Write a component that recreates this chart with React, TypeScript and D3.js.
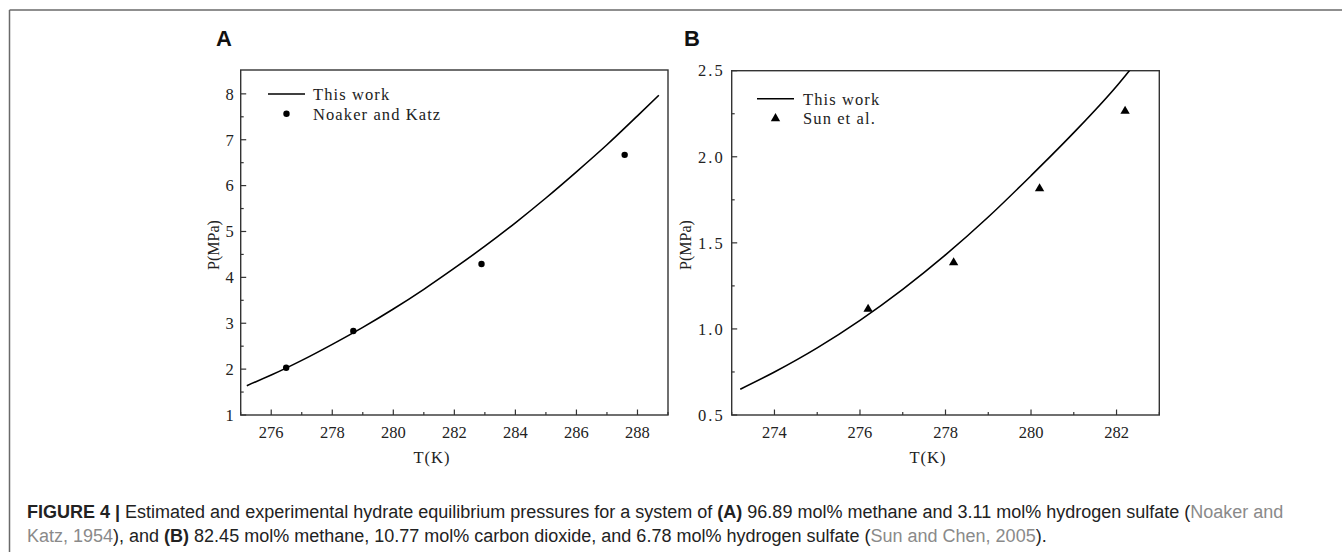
import React from "react";
import * as d3 from "d3";

// Panel A data
const curveA_T = [275.2, 276, 277, 278, 279, 280, 281, 282, 283, 284, 285, 286, 287, 288, 288.7];
const curveA_P = [1.64, 1.87, 2.19, 2.54, 2.91, 3.31, 3.74, 4.2, 4.68, 5.19, 5.73, 6.3, 6.89, 7.52, 7.97];
const pointsA_T = [276.49, 278.69, 282.89, 287.58];
const pointsA_P = [2.03, 2.83, 4.29, 6.67];
const xTicksA = [276, 278, 280, 282, 284, 286, 288];
const xMinorA = [275, 277, 279, 281, 283, 285, 287, 289];
const yTicksA = [1, 2, 3, 4, 5, 6, 7, 8];
const yMinorA = [1.5, 2.5, 3.5, 4.5, 5.5, 6.5, 7.5];

// Panel B data
const curveB_T = [273.2, 274, 275, 276, 277, 278, 279, 280, 281, 282, 282.3, 282.6];
const curveB_P = [0.65, 0.75, 0.89, 1.05, 1.23, 1.43, 1.65, 1.89, 2.14, 2.41, 2.5, 2.59];
const pointsB_T = [276.19, 278.19, 280.2, 282.2];
const pointsB_P = [1.12, 1.39, 1.82, 2.27];
const xTicksB = [274, 276, 278, 280, 282];
const xMinorB = [273, 275, 277, 279, 281, 283];
const yTicksB = [0.5, 1.0, 1.5, 2.0, 2.5];
const yMinorB = [0.75, 1.25, 1.75, 2.25];

const SERIF = "'Liberation Serif', 'Times New Roman', serif";
const SANS = "'Liberation Sans', Arial, Helvetica, sans-serif";
const INK = "#222";

type PanelProps = {
  id: string;
  letter: string;
  letterX: number;
  box: { x0: number; x1: number; y0: number; y1: number };
  xDomain: [number, number];
  yDomain: [number, number];
  xTicks: number[];
  xMinor: number[];
  yTicks: number[];
  yMinor: number[];
  yFmt: (v: number) => string;
  yLetterSpacing: number;
  curveT: number[];
  curveP: number[];
  ptsT: number[];
  ptsP: number[];
  marker: "circle" | "triangle";
  legendName: string;
  legend: { lx0: number; lx1: number; ly1: number; ly2: number; tx: number };
  yLabelX: number;
  xLabelX: number;
};

function Marker({ kind, x, y }: { kind: "circle" | "triangle"; x: number; y: number }) {
  if (kind === "circle") return <circle cx={x} cy={y} r={3.2} fill="#000" />;
  const sym = d3.symbol(d3.symbolTriangle, 38)();
  return <path d={sym || ""} transform={`translate(${x},${y + 0.8})`} fill="#000" />;
}

function Panel(p: PanelProps) {
  const { box } = p;
  const x = d3.scaleLinear().domain(p.xDomain).range([box.x0, box.x1]);
  const y = d3.scaleLinear().domain(p.yDomain).range([box.y1, box.y0]);
  const line = d3
    .line<number>()
    .x((_, i) => x(p.curveT[i]))
    .y((d) => y(d))
    .curve(d3.curveMonotoneX);
  const clipId = `clip-${p.id}`;
  const stroke = "#333";
  return (
    <g>
      <defs>
        <clipPath id={clipId}>
          <rect x={box.x0} y={box.y0} width={box.x1 - box.x0} height={box.y1 - box.y0} />
        </clipPath>
      </defs>
      <text x={p.letterX} y={46} fontFamily={SANS} fontWeight="bold" fontSize={22} fill="#111">
        {p.letter}
      </text>
      {p.xTicks.map((t) => (
        <g key={`xt${t}`}>
          <line x1={x(t)} x2={x(t)} y1={box.y1} y2={box.y1 - 5.5} stroke={stroke} strokeWidth={1.2} />
          <text x={x(t)} y={438} textAnchor="middle" fontFamily={SERIF} fontSize={16.5} fill={INK}>
            {t}
          </text>
        </g>
      ))}
      {p.xMinor.map((t) => (
        <line key={`xm${t}`} x1={x(t)} x2={x(t)} y1={box.y1} y2={box.y1 - 3} stroke={stroke} strokeWidth={1.2} />
      ))}
      {p.yTicks.map((t) => (
        <g key={`yt${t}`}>
          <line x1={box.x0} x2={box.x0 + 5.5} y1={y(t)} y2={y(t)} stroke={stroke} strokeWidth={1.2} />
          <text
            x={box.x0 - 7}
            y={y(t)}
            dy="0.35em"
            textAnchor="end"
            fontFamily={SERIF}
            fontSize={16.5}
            letterSpacing={p.yLetterSpacing}
            fill={INK}
          >
            {p.yFmt(t)}
          </text>
        </g>
      ))}
      {p.yMinor.map((t) => (
        <line key={`ym${t}`} x1={box.x0} x2={box.x0 + 3} y1={y(t)} y2={y(t)} stroke={stroke} strokeWidth={1.2} />
      ))}
      <rect
        x={box.x0}
        y={box.y0}
        width={box.x1 - box.x0}
        height={box.y1 - box.y0}
        fill="none"
        stroke={stroke}
        strokeWidth={1.4}
      />
      <path
        d={line(p.curveP) || ""}
        fill="none"
        stroke="#000"
        strokeWidth={1.6}
        clipPath={`url(#${clipId})`}
      />
      {p.ptsT.map((t, i) => (
        <Marker key={`pt${i}`} kind={p.marker} x={x(t)} y={y(p.ptsP[i])} />
      ))}
      <line x1={p.legend.lx0} x2={p.legend.lx1} y1={p.legend.ly1} y2={p.legend.ly1} stroke="#000" strokeWidth={1.6} />
      <text x={p.legend.tx} y={p.legend.ly1 + 6} fontFamily={SERIF} fontSize={16.5} letterSpacing={1.1} fill={INK}>
        This work
      </text>
      <Marker kind={p.marker} x={(p.legend.lx0 + p.legend.lx1) / 2} y={p.legend.ly2} />
      <text x={p.legend.tx} y={p.legend.ly2 + 6} fontFamily={SERIF} fontSize={16.5} letterSpacing={1.1} fill={INK}>
        {p.legendName}
      </text>
      <text
        transform={`translate(${p.yLabelX},245) rotate(-90)`}
        textAnchor="middle"
        fontFamily={SERIF}
        fontSize={16}
        fill={INK}
      >
        P(MPa)
      </text>
      <text x={p.xLabelX} y={463} textAnchor="middle" fontFamily={SERIF} fontSize={16.5} letterSpacing={1} fill={INK}>
        T(K)
      </text>
    </g>
  );
}

export default function App() {
  const grey = "#8a8a8a";
  return (
    <svg
      width={1342}
      height={552}
      viewBox="0 0 1342 552"
      style={{ position: "absolute", left: 0, top: 0, background: "#fff" }}
    >
      <rect x={0} y={0} width={1342} height={552} fill="#fff" />
      <line x1={9.5} x2={1342} y1={10} y2={10} stroke="#6a6a6a" strokeWidth={1.5} />
      <line x1={9.5} x2={9.5} y1={10} y2={552} stroke="#6a6a6a" strokeWidth={1.5} />
      <Panel
        id="A"
        letter="A"
        letterX={216}
        box={{ x0: 240.7, x1: 668, y0: 70, y1: 415 }}
        xDomain={[275, 289]}
        yDomain={[1, 8.52]}
        xTicks={xTicksA}
        xMinor={xMinorA}
        yTicks={yTicksA}
        yMinor={yMinorA}
        yFmt={(v) => String(v)}
        yLetterSpacing={0}
        curveT={curveA_T}
        curveP={curveA_P}
        ptsT={pointsA_T}
        ptsP={pointsA_P}
        marker="circle"
        legendName="Noaker and Katz"
        legend={{ lx0: 268, lx1: 305, ly1: 94, ly2: 113.7, tx: 313 }}
        yLabelX={219}
        xLabelX={432}
      />
      <Panel
        id="B"
        letter="B"
        letterX={684}
        box={{ x0: 731.7, x1: 1159.3, y0: 70.7, y1: 415 }}
        xDomain={[273, 283]}
        yDomain={[0.5, 2.5]}
        xTicks={xTicksB}
        xMinor={xMinorB}
        yTicks={yTicksB}
        yMinor={yMinorB}
        yFmt={(v) => v.toFixed(1)}
        yLetterSpacing={2}
        curveT={curveB_T}
        curveP={curveB_P}
        ptsT={pointsB_T}
        ptsP={pointsB_P}
        marker="triangle"
        legendName="Sun et al."
        legend={{ lx0: 757, lx1: 794, ly1: 98.7, ly2: 117.7, tx: 803 }}
        yLabelX={691}
        xLabelX={928}
      />
      <text x={27} y={518} fontFamily={SANS} fontSize={18} fill="#222">
        <tspan fontWeight="bold">FIGURE 4 |</tspan>
        <tspan> Estimated and experimental hydrate equilibrium pressures for a system of </tspan>
        <tspan fontWeight="bold">(A)</tspan>
        <tspan> 96.89 mol% methane and 3.11 mol% hydrogen sulfate (</tspan>
        <tspan fill={grey}>Noaker and</tspan>
      </text>
      <text x={27} y={542} fontFamily={SANS} fontSize={18} fill="#222">
        <tspan fill={grey}>Katz, 1954</tspan>
        <tspan>), and </tspan>
        <tspan fontWeight="bold">(B)</tspan>
        <tspan> 82.45 mol% methane, 10.77 mol% carbon dioxide, and 6.78 mol% hydrogen sulfate (</tspan>
        <tspan fill={grey}>Sun and Chen, 2005</tspan>
        <tspan>).</tspan>
      </text>
    </svg>
  );
}
